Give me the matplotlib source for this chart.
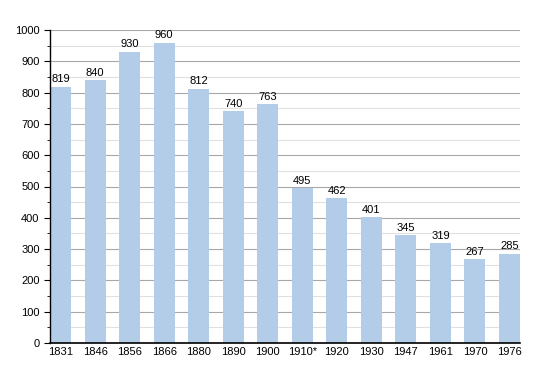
import numpy as np
import matplotlib.pyplot as plt
from matplotlib.ticker import MultipleLocator

plt.rcParams['font.family'] = ['Liberation Sans', 'DejaVu Sans']

years = ["1831", "1846", "1856", "1866", "1880", "1890", "1900",
         "1910*", "1920", "1930", "1947", "1961", "1970", "1976"]
population = [819, 840, 930, 960, 812, 740, 763, 495, 462, 401, 345, 319, 267, 285]

fig = plt.figure(figsize=(5.5, 3.73), dpi=100)
ax = fig.add_axes([50/550, 30/373, 470/550, 313/373])

w = 0.61
x = np.arange(len(years))
ax.bar(x, population, width=w, color="#b3cde8", zorder=2)
for xi, v in zip(x, population):
    ax.text(xi, v + 8, str(v), ha="center", va="bottom", fontsize=8)

ax.set_xlim(-w/2, len(years) - 1 + w/2)
ax.set_ylim(0, 1000)
ax.yaxis.set_major_locator(MultipleLocator(100))
ax.yaxis.set_minor_locator(MultipleLocator(50))
ax.grid(which="major", axis="y", color="#a8a8a8", lw=0.8, zorder=0)
ax.grid(which="minor", axis="y", color="#e0e0e0", lw=0.8, zorder=0)
ax.set_xticks(x)
ax.set_xticklabels(years)
ax.tick_params(axis="x", length=0, labelsize=8, pad=3)
ax.tick_params(axis="y", which="major", length=4, labelsize=8)
ax.tick_params(axis="y", which="minor", length=2)
for s in ["top", "right"]:
    ax.spines[s].set_visible(False)
ax.spines["left"].set_linewidth(1)
ax.spines["bottom"].set_linewidth(1.2)

fig.savefig("out.png", dpi=100)
